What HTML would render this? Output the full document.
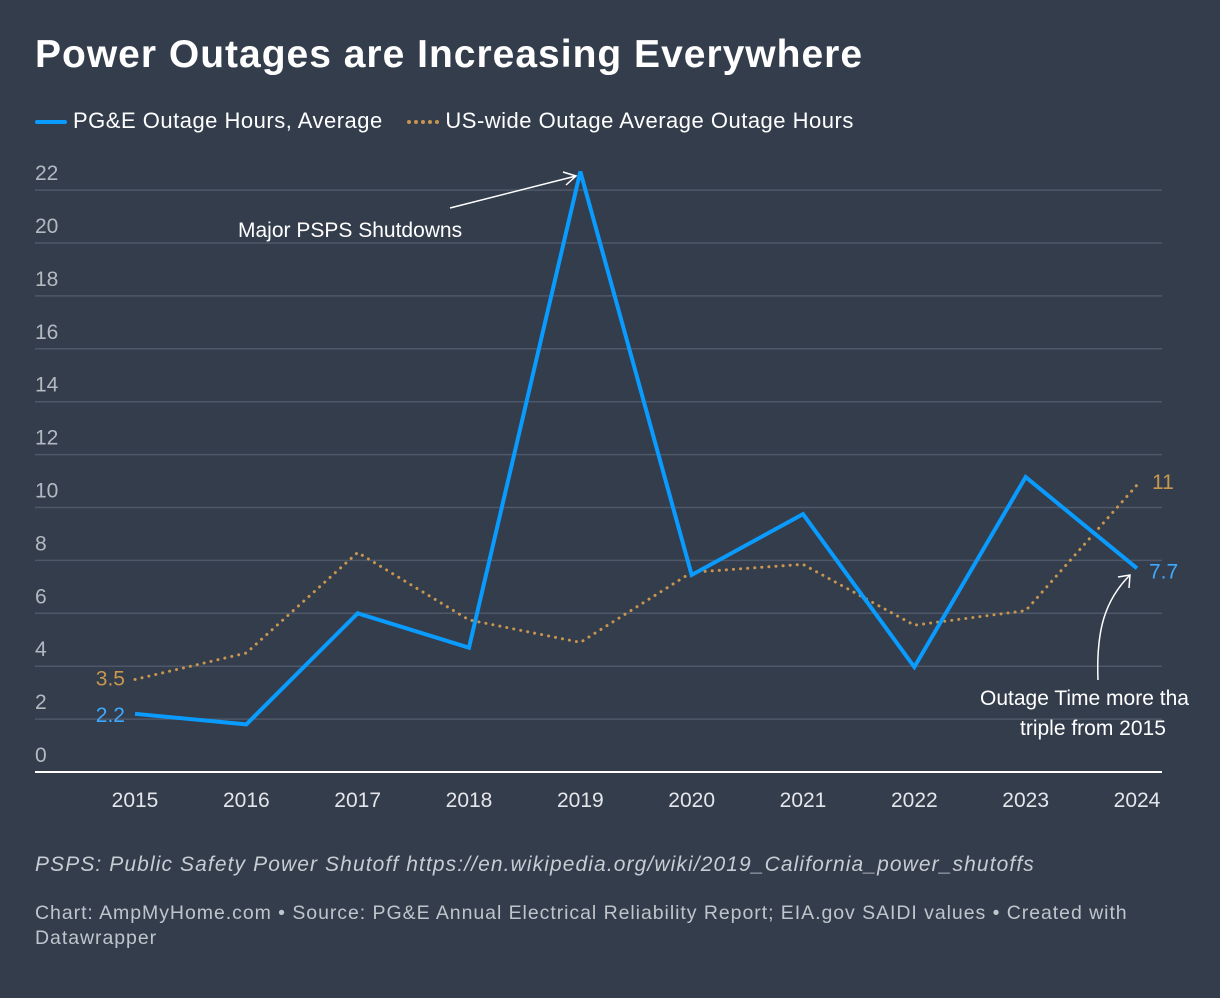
<!DOCTYPE html>
<html><head><meta charset="utf-8"><style>
body{margin:0;background:#333d4c;width:1220px;height:998px;overflow:hidden;font-family:"Liberation Sans",sans-serif;color:#fff}
.t{position:absolute;white-space:nowrap}
</style></head><body>
<div class="t" style="left:35px;top:33px;font-size:39px;font-weight:bold;letter-spacing:1px">Power Outages are Increasing Everywhere</div>
<div style="position:absolute;left:35px;top:108px;font-size:22px;color:#fff;letter-spacing:0.5px">
 <span><span style="display:inline-block;width:32px;height:4px;background:#0a9bff;vertical-align:middle;margin-right:6px;border-radius:2px"></span>PG&amp;E Outage Hours, Average</span>
 <span style="margin-left:18px"><span style="display:inline-block;width:32px;border-top:4px dotted #c8964f;vertical-align:middle;margin-right:6px"></span>US-wide Outage Average Outage Hours</span>
</div>
<svg id="chart" width="1220" height="998" style="position:absolute;left:0;top:0"></svg>
<div class="t" style="left:35px;top:853px;font-size:21px;font-style:italic;color:#c8ccd3;letter-spacing:1.1px">PSPS: Public Safety Power Shutoff https://en.wikipedia.org/wiki/2019_California_power_shutoffs</div>
<div style="position:absolute;left:35px;top:901px;font-size:19.5px;color:#c0c5cc;line-height:25px;width:1150px;white-space:nowrap;letter-spacing:0.95px">Chart: AmpMyHome.com • Source: PG&amp;E Annual Electrical Reliability Report; EIA.gov SAIDI values • Created with<br>Datawrapper</div>
<script>
const years=[2015,2016,2017,2018,2019,2020,2021,2022,2023,2024];
const pge=[2.2,1.8,6.0,4.7,22.7,7.45,9.75,3.97,11.15,7.7];
const us=[3.5,4.5,8.3,5.75,4.9,7.55,7.85,5.55,6.1,10.85];
const yTicks=[0,2,4,6,8,10,12,14,16,18,20,22];
const NS="http://www.w3.org/2000/svg";
const svg=document.getElementById('chart');
const x=i=>135+i*(1137-135)/(years.length-1);
const y=v=>772-v*26.45;
function mk(t,a,p){const e=document.createElementNS(NS,t);for(const k in a)e.setAttribute(k,a[k]);(p||svg).appendChild(e);return e;}
yTicks.forEach(v=>{
 if(v>0){const l=mk('line',{x1:35,x2:1162,y1:y(v),y2:y(v),stroke:'#4e5868','stroke-width':1.5});
 
 }
 const t=mk('text',{x:35,y:y(v)-10,fill:'#b4b9c1','font-size':21,'font-family':'Liberation Sans'});t.textContent=v;
 
 
});
const base=mk('line',{x1:35,x2:1162,y1:772,y2:772,stroke:'#fff','stroke-width':2});


years.forEach((yr,i)=>{const t=mk('text',{x:x(i),y:807,fill:'#e4e6ea','font-size':21,'text-anchor':'middle','font-family':'Liberation Sans'});t.textContent=yr;
 
 });
const p2=mk('polyline',{points:us.map((v,i)=>x(i)+','+y(v)).join(' '),fill:'none',stroke:'#c8964f','stroke-width':3,'stroke-dasharray':'0.1 7','stroke-linecap':'round'});


const p1=mk('polyline',{points:pge.map((v,i)=>x(i)+','+y(v)).join(' '),fill:'none',stroke:'#0a9bff','stroke-width':4,'stroke-linejoin':'miter'});


function lab(s,xx,yy,c,anchor,name){const t=mk('text',{x:xx,y:yy,fill:c,'font-size':21,'text-anchor':anchor,'font-family':'Liberation Sans'});t.textContent=s;
 
 }
lab(us[0],125,y(us[0])+6,'#c8964f','end','us-start-label');
lab(pge[0],125,y(pge[0])+8,'#3fa9ff','end','pge-start-label');
lab(11,1152,y(us[9])+4,'#c8964f','start','us-end-label');
lab(pge[9],1149,y(pge[9])+10,'#3fa9ff','start','pge-end-label');
lab('Major PSPS Shutdowns',238,237,'#fff','start','annotation-psps');
lab('Outage Time more tha',980,705,'#fff','start','annotation-triple-1');
lab('triple from 2015',1020,735,'#fff','start','annotation-triple-2');
const a1=mk('path',{d:'M450,208 L576,176 M563,172 L576,176 L566,185',stroke:'#fff','stroke-width':1.5,fill:'none'});


const a2=mk('path',{d:'M1098,680 C1096,630 1105,600 1130,575 M1118,577 L1130,575 L1129,588',stroke:'#fff','stroke-width':1.5,fill:'none'});


</script>
</body></html>
